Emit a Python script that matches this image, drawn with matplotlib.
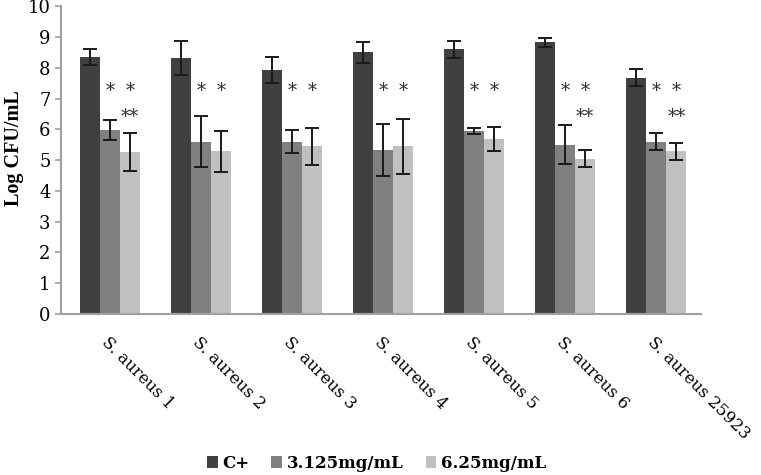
import numpy as np
import matplotlib.pyplot as plt

strains = ['S. aureus 1', 'S. aureus 2', 'S. aureus 3', 'S. aureus 4',
           'S. aureus 5', 'S. aureus 6', 'S. aureus 25923']
series = ['C+', '3.125mg/mL', '6.25mg/mL']
c_pos = [8.35, 8.33, 7.93, 8.50, 8.60, 8.82, 7.68]
c_pos_err = [0.25, 0.55, 0.42, 0.35, 0.27, 0.15, 0.27]
low = [5.97, 5.60, 5.60, 5.32, 5.95, 5.50, 5.60]
low_err = [0.32, 0.82, 0.37, 0.85, 0.10, 0.63, 0.28]
high = [5.25, 5.28, 5.45, 5.45, 5.68, 5.05, 5.28]
high_err = [0.62, 0.67, 0.60, 0.90, 0.38, 0.27, 0.27]
# which groups carry a "**" above the 6.25mg/mL bar
marks_double = [True, False, False, False, False, True, True]

colors = ['#404040', '#808080', '#c0c0c0']
plt.rcParams['font.family'] = 'DejaVu Serif'

fig = plt.figure(figsize=(7.61, 4.75), dpi=100)
ax = fig.add_axes([0.080, 0.339, 0.841, 0.648])

x = np.arange(len(strains))
w = 0.22
vals = [c_pos, low, high]
errs = [c_pos_err, low_err, high_err]
for k in range(3):
    ax.bar(x + (k - 1) * w, vals[k], w, color=colors[k], label=series[k],
           yerr=errs[k], capsize=5,
           error_kw=dict(elinewidth=1.4, capthick=1.4, ecolor='#1a1a1a'))

for i in range(len(strains)):
    ax.text(x[i], 7.25, '*', ha='center', va='center', fontsize=13, color='#333333')
    ax.text(x[i] + w, 7.25, '*', ha='center', va='center', fontsize=13, color='#333333')
    if marks_double[i]:
        ax.text(x[i] + w, 6.4, '**', ha='center', va='center', fontsize=13, color='#333333')

ax.set_xlim(-0.54, 6.49)
ax.set_ylim(0, 10)
ax.set_yticks(range(0, 11))
ax.tick_params(axis='y', labelsize=13, color='#a0a0a0', length=4, width=1.2)
ax.tick_params(axis='x', length=0, pad=14)
ax.set_xticks(x)
ax.set_xticklabels(strains, rotation=-45, ha='left', va='top',
                   rotation_mode='anchor', fontsize=12)

for s in ['top', 'right']:
    ax.spines[s].set_visible(False)
for s in ['left', 'bottom']:
    ax.spines[s].set_color('#a0a0a0')
    ax.spines[s].set_linewidth(1.5)

ax.set_ylabel('Log CFU/mL', fontsize=14.5, fontweight='bold',
              family='Liberation Serif')
ax.yaxis.set_label_coords(-0.058, 0.54)

fig.legend(loc='lower center', bbox_to_anchor=(0.495, -0.025), ncol=3,
           frameon=False, handlelength=0.65, handleheight=0.65, handletextpad=0.3,
           columnspacing=1.3, prop={'weight': 'bold', 'size': 12})

fig.savefig('out.png', dpi=100)
